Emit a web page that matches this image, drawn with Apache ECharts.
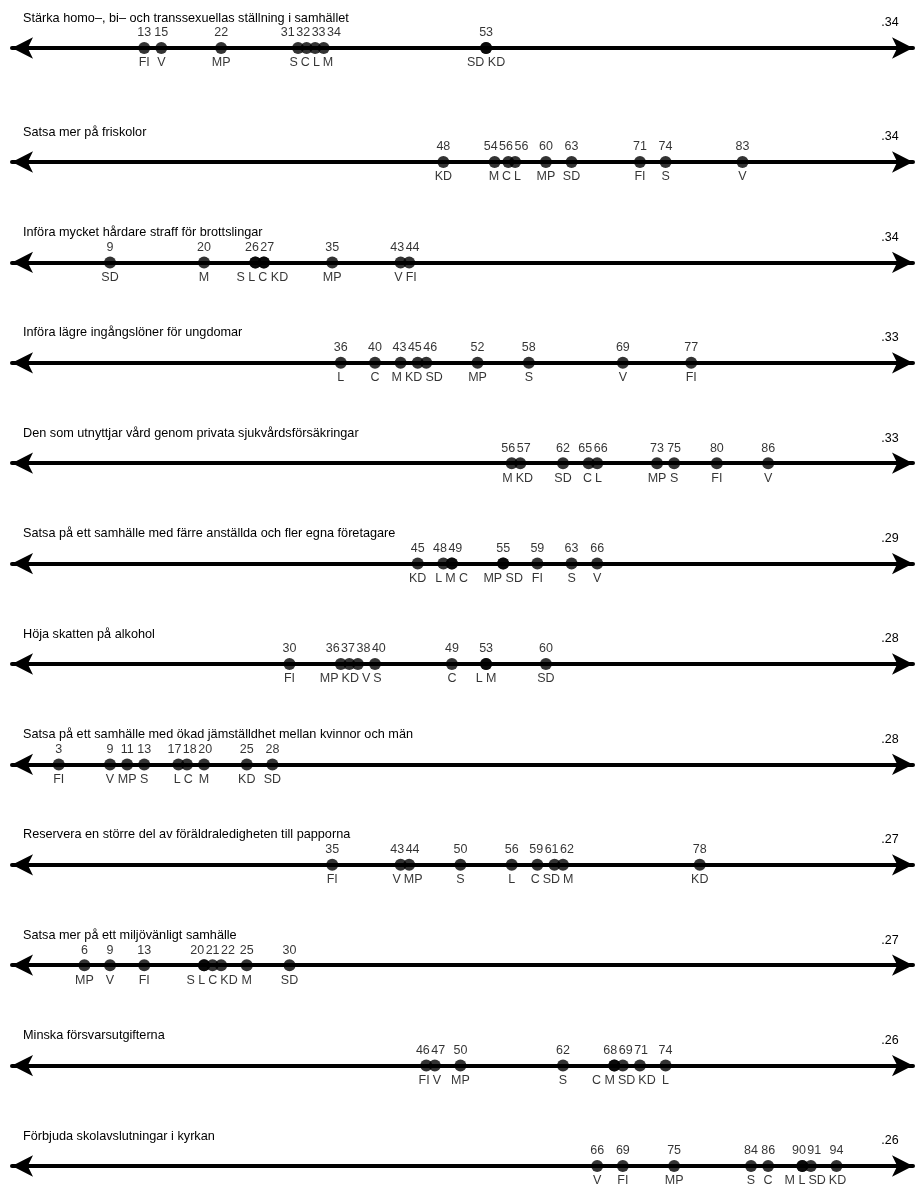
<!DOCTYPE html>
<html>
<head>
<meta charset="utf-8">
<script src="https://cdn.jsdelivr.net/npm/echarts@6/dist/echarts.min.js"></script>
<style>
html,body{margin:0;padding:0;background:#fff;}
#chart{width:916px;height:1187px;}
</style>
</head>
<body>
<div id="chart"></div>
<script>
// ---------------- DATA ----------------
const statements = [
  'Stärka homo–, bi– och transsexuellas ställning i samhället',
  'Satsa mer på friskolor',
  'Införa mycket hårdare straff för brottslingar',
  'Införa lägre ingångslöner för ungdomar',
  'Den som utnyttjar vård genom privata sjukvårdsförsäkringar',
  'Satsa på ett samhälle med färre anställda och fler egna företagare',
  'Höja skatten på alkohol',
  'Satsa på ett samhälle med ökad jämställdhet mellan kvinnor och män',
  'Reservera en större del av föräldraledigheten till papporna',
  'Satsa mer på ett miljövänligt samhälle',
  'Minska försvarsutgifterna',
  'Förbjuda skolavslutningar i kyrkan'
];
const correlations = ['.34', '.34', '.34', '.33', '.33', '.29', '.28', '.28', '.27', '.27', '.26', '.26'];

const parties1 = ['FI', 'V', 'MP', 'S', 'C', 'L', 'M', 'SD', 'KD'];
const values1  = [13, 15, 22, 31, 32, 33, 34, 53, 53];
const parties2 = ['KD', 'M', 'C', 'L', 'MP', 'SD', 'FI', 'S', 'V'];
const values2  = [48, 54, 55.6, 56.4, 60, 63, 71, 74, 83];
const parties3 = ['SD', 'M', 'S', 'L', 'C', 'KD', 'MP', 'V', 'FI'];
const values3  = [9, 20, 26, 26, 27, 27, 35, 43, 44];
const parties4 = ['L', 'C', 'M', 'KD', 'SD', 'MP', 'S', 'V', 'FI'];
const values4  = [36, 40, 43, 45, 46, 52, 58, 69, 77];
const parties5 = ['M', 'KD', 'SD', 'C', 'L', 'MP', 'S', 'FI', 'V'];
const values5  = [56, 57, 62, 65, 66, 73, 75, 80, 86];
const parties6 = ['KD', 'L', 'M', 'C', 'MP', 'SD', 'FI', 'S', 'V'];
const values6  = [45, 48, 49, 49, 55, 55, 59, 63, 66];
const parties7 = ['FI', 'MP', 'KD', 'V', 'S', 'C', 'L', 'M', 'SD'];
const values7  = [30, 36, 37, 38, 40, 49, 53, 53, 60];
const parties8 = ['FI', 'V', 'MP', 'S', 'L', 'C', 'M', 'KD', 'SD'];
const values8  = [3, 9, 11, 13, 17, 18, 20, 25, 28];
const parties9 = ['FI', 'V', 'MP', 'S', 'L', 'C', 'SD', 'M', 'KD'];
const values9  = [35, 43, 44, 50, 56, 59, 61, 62, 78];
const parties10 = ['MP', 'V', 'FI', 'S', 'L', 'C', 'KD', 'M', 'SD'];
const values10  = [6, 9, 13, 20, 20, 21, 22, 25, 30];
const parties11 = ['FI', 'V', 'MP', 'S', 'C', 'M', 'SD', 'KD', 'L'];
const values11  = [46, 47, 50, 62, 68, 68, 69, 71, 74];
const parties12 = ['V', 'FI', 'MP', 'S', 'C', 'M', 'L', 'SD', 'KD'];
const values12  = [66, 69, 75, 84, 86, 90, 90, 91, 94];

const partyLists = [parties1, parties2, parties3, parties4, parties5, parties6,
                    parties7, parties8, parties9, parties10, parties11, parties12];
const valueLists = [values1, values2, values3, values4, values5, values6,
                    values7, values8, values9, values10, values11, values12];

// ---------------- LAYOUT ----------------
const FONT = '"Liberation Sans", Arial, Helvetica, sans-serif';
const GRID_LEFT = 12, GRID_RIGHT = 3;
const AXIS_MIN = -2.47, AXIS_MAX = 102.95;
function lineY(i) { return i === 0 ? 48 : 162 + (i - 1) * 100.4; }

const measureCtx = document.createElement('canvas').getContext('2d');
function widthWith(font, s) { measureCtx.font = font; return measureCtx.measureText(s).width; }
// use a narrow face for the small labels when one is installed
const NARROW_OK = widthWith('13px "Liberation Sans Narrow", monospace', '0123456789MKD') !==
                  widthWith('13px monospace', '0123456789MKD');
const LABEL_FONT = NARROW_OK ? '"Liberation Sans Narrow", "Arial Narrow", ' + FONT : FONT;
const LABEL_SIZE = NARROW_OK ? 13.5 : 12.5;

const rows = statements.map((t, i) => ({
  title: t, coef: correlations[i], parties: partyLists[i], values: valueLists[i]
}));

function textWidth(s) { return widthWith(LABEL_SIZE + 'px ' + LABEL_FONT, s); }

function groupsOf(row) {
  const gs = [];
  row.values.forEach((v, j) => {
    let g = gs.find(x => x.value === v);
    if (!g) { g = { value: v, members: [] }; gs.push(g); }
    g.members.push(j);
  });
  gs.sort((a, b) => a.value - b.value);
  return gs;
}

// 1-D label packing: labels kept as close as possible to their anchor without overlapping
function pack(items, gap) {
  function computeBlock(b) {
    let off = 0, s = 0;
    b.offs = [];
    b.ids.forEach(k => {
      const w = items[k].w;
      const o = off + w / 2;
      b.offs.push(o);
      s += items[k].c - o;
      off += w + gap;
    });
    b.width = off - gap;
    b.left = s / b.ids.length;
  }
  const order = items.map((_, k) => k).sort((a, b) => items[a].c - items[b].c);
  const blocks = [];
  order.forEach(k => {
    const b = { ids: [k] };
    computeBlock(b);
    blocks.push(b);
    while (blocks.length > 1) {
      const cur = blocks[blocks.length - 1], prev = blocks[blocks.length - 2];
      if (prev.left + prev.width + gap > cur.left) {
        prev.ids = prev.ids.concat(cur.ids);
        computeBlock(prev);
        blocks.pop();
      } else break;
    }
  });
  const pos = new Array(items.length);
  blocks.forEach(b => b.ids.forEach((k, n) => { pos[k] = b.left + b.offs[n]; }));
  return pos;
}

function buildOption(layout) {
  const grid = [], xAxis = [], yAxis = [], series = [], graphic = [];
  rows.forEach((row, i) => {
    const y = lineY(i);
    grid.push({ left: GRID_LEFT, right: GRID_RIGHT, top: y - 10, height: 20 });
    xAxis.push({
      gridIndex: i, type: 'value', min: AXIS_MIN, max: AXIS_MAX,
      axisLine: {
        show: true, onZero: true,
        symbol: ['arrow', 'arrow'], symbolSize: [16, 21],
        lineStyle: { color: '#000', width: 4 }
      },
      axisTick: { show: false }, axisLabel: { show: false }, splitLine: { show: false }
    });
    yAxis.push({ gridIndex: i, type: 'value', min: -1, max: 1, show: false });

    const gs = groupsOf(row);
    const L = layout ? layout[i] : null;
    const dotData = [], labData = [];
    gs.forEach((g, gi) => {
      g.members.forEach((j, mi) => {
        dotData.push({
          value: [g.value, 0],
          label: { show: mi === 0, formatter: String(Math.round(g.value)),
                   offset: [L ? L.val[gi] : 0, -15] }
        });
      });
      labData.push({
        value: [g.value, 0],
        label: { show: true, formatter: g.members.map(j => row.parties[j]).join(' '),
                 offset: [L ? L.par[gi] : 0, 15] }
      });
    });
    series.push({
      type: 'scatter', xAxisIndex: i, yAxisIndex: i, symbolSize: 12, silent: true,
      itemStyle: { color: '#000' },
      label: { show: true, position: 'inside', color: '#000', fontSize: LABEL_SIZE, fontFamily: LABEL_FONT },
      data: dotData, z: 3
    });
    series.push({
      type: 'scatter', xAxisIndex: i, yAxisIndex: i, symbolSize: 1, silent: true,
      itemStyle: { color: 'rgba(0,0,0,0)' },
      label: { show: true, position: 'inside', color: '#000', fontSize: LABEL_SIZE, fontFamily: LABEL_FONT },
      data: labData, z: 4
    });
    graphic.push({
      type: 'text', x: 23, y: y - 30, silent: true,
      style: { text: row.title, fontSize: 12.7, fontFamily: FONT, fill: '#000',
               align: 'left', verticalAlign: 'middle' }
    });
    graphic.push({
      type: 'text', x: 890, y: y - 25, silent: true,
      style: { text: row.coef, fontSize: LABEL_SIZE, fontFamily: LABEL_FONT, fill: '#000',
               align: 'center', verticalAlign: 'middle' }
    });
  });
  return {
    backgroundColor: '#fff', animation: false,
    grid, xAxis, yAxis, series, graphic
  };
}

const chart = echarts.init(document.getElementById('chart'), null, { renderer: 'canvas' });
chart.setOption(buildOption(null));
const layout = rows.map((row, i) => {
  const gs = groupsOf(row);
  const cs = gs.map(g => chart.convertToPixel({ gridIndex: i }, [g.value, 0])[0]);
  const vItems = gs.map((g, k) => ({ c: cs[k], w: textWidth(String(Math.round(g.value))) }));
  const pItems = gs.map((g, k) => ({ c: cs[k], w: textWidth(g.members.map(j => row.parties[j]).join(' ')) }));
  const vp = pack(vItems, 1.5), pp = pack(pItems, 3);
  return { val: vp.map((p, k) => p - cs[k]), par: pp.map((p, k) => p - cs[k]) };
});
chart.setOption(buildOption(layout), true);
</script>
</body>
</html>
